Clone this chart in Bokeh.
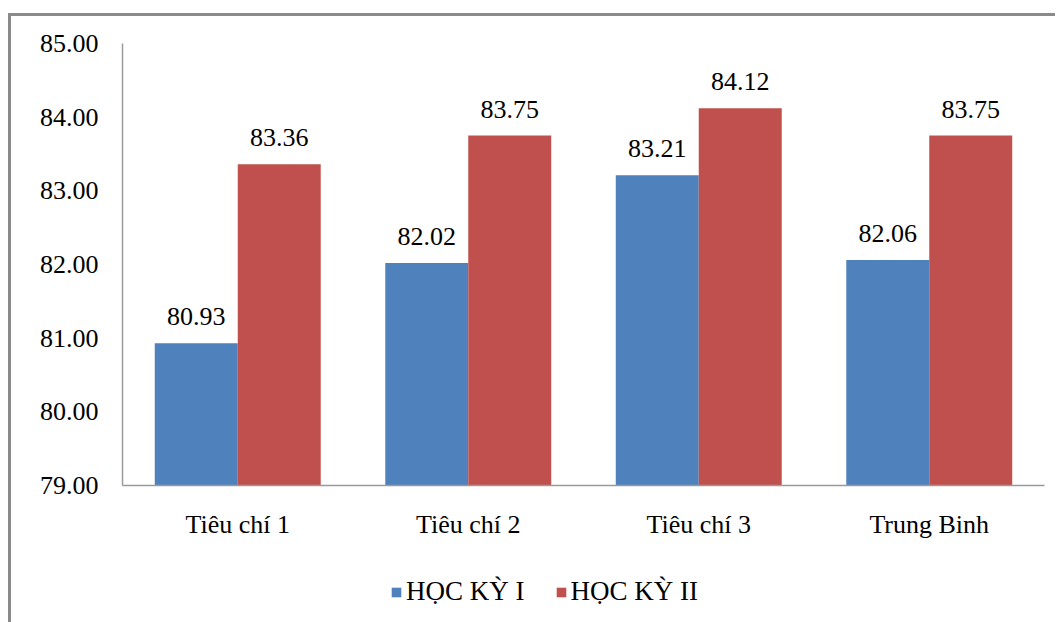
from bokeh.plotting import figure
from bokeh.layouts import column
from bokeh.models import (ColumnDataSource, FactorRange, Range1d, Legend, LegendItem, LabelSet,
                          NumeralTickFormatter)
from bokeh.core.properties import value
from bokeh.transform import dodge
from bokeh.embed import file_html
from bokeh.resources import INLINE

categories = ["Tiêu chí 1", "Tiêu chí 2", "Tiêu chí 3", "Trung Binh"]
hk1 = [80.93, 82.02, 83.21, 82.06]
hk2 = [83.36, 83.75, 84.12, 83.75]
series_names = ["HỌC KỲ I", "HỌC KỲ II"]
colors = ["#4F81BD", "#C0504D"]
y_ticks = [79, 80, 81, 82, 83, 84, 85]

src = ColumnDataSource(dict(
    cat=categories, hk1=hk1, hk2=hk2,
    l1=[f"{v:.2f}" for v in hk1], l2=[f"{v:.2f}" for v in hk2],
))

FONT = "Liberation Serif"
p = figure(x_range=FactorRange(*categories), y_range=(79, 85),
           width=1044, height=540, output_backend="svg", toolbar_location=None,
           min_border_left=111, min_border_right=11, min_border_top=27, min_border_bottom=71)
p.x_range.range_padding = 0
p.outline_line_color = None
p.grid.visible = False

w = 0.36
b1 = p.vbar(x=dodge("cat", -w / 2, range=p.x_range), top="hk1", bottom=79, width=w, source=src,
            fill_color=colors[0], line_color=None)
b2 = p.vbar(x=dodge("cat", w / 2, range=p.x_range), top="hk2", bottom=79, width=w, source=src,
            fill_color=colors[1], line_color=None)

for col, lab, off in (("hk1", "l1", -w / 2), ("hk2", "l2", w / 2)):
    p.add_layout(LabelSet(x=dodge("cat", off, range=p.x_range), y=col, text=lab, source=src,
                          text_align="center", text_baseline="alphabetic", y_offset=18,
                          text_font=value(FONT), text_font_size=value("26px"),
                          text_color="#000000"))

p.yaxis.ticker = y_ticks
p.yaxis.formatter = NumeralTickFormatter(format="0.00")
for ax in (p.xaxis, p.yaxis):
    ax.axis_line_color = "#9a9a9a"
    ax.axis_line_width = 1.5
    ax.major_tick_line_color = None
    ax.minor_tick_line_color = None
    ax.major_label_text_font = FONT
    ax.major_label_text_font_size = "26px"
    ax.major_label_text_color = "#000000"
p.yaxis.major_label_standoff = 18
p.xaxis.major_label_standoff = 18

# legend strip below the chart (legend-only renderers: one zero-size placeholder bar each)
q = figure(x_range=FactorRange(*categories), y_range=Range1d(0, 1),
           width=1044, height=66, output_backend="svg", toolbar_location=None,
           min_border=0, min_border_left=0, min_border_right=0, min_border_top=0, min_border_bottom=0)
q.axis.visible = False
q.grid.visible = False
q.outline_line_color = None
placeholder = ColumnDataSource(dict(cat=[categories[0]], v=[0]))
d1 = q.vbar(x="cat", top="v", bottom="v", width=0, source=placeholder,
            fill_color=colors[0], line_color=None)
d2 = q.vbar(x="cat", top="v", bottom="v", width=0, source=placeholder,
            fill_color=colors[1], line_color=None)
legend = Legend(items=[LegendItem(label=series_names[0], renderers=[d1]),
                       LegendItem(label=series_names[1], renderers=[d2])],
                orientation="horizontal", location=(268, 15),
                label_text_font=FONT, label_text_font_size="27px", label_text_color="#000000",
                glyph_width=12, glyph_height=12, spacing=30, label_standoff=4,
                border_line_color=None, background_fill_alpha=0, margin=0, padding=4)
q.add_layout(legend, "center")

layout = column(p, q, spacing=0)
layout.styles = {"margin-top": "13px", "margin-left": "8px",
                 "border-top": "3px solid #8a8a8a", "border-left": "3px solid #8a8a8a"}

open("out.html", "w").write(file_html(layout, INLINE))
